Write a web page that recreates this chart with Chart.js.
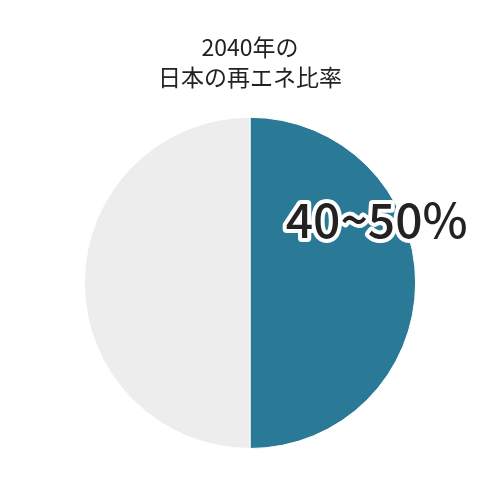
<!DOCTYPE html>
<html>
<head>
<meta charset="utf-8">
<title>2040年の日本の再エネ比率</title>
<style>
  html, body { margin: 0; padding: 0; background: #fff; }
  #wrap { width: 500px; height: 500px; }
</style>
</head>
<body>
<div id="wrap"><canvas id="myChart" width="500" height="500"></canvas></div>
<script src="https://cdn.jsdelivr.net/npm/chart.js@4"></script>
<script>
var titleLines = ['2040年の', '日本の再エネ比率'];
var labels = ['再エネ', 'その他'];
var values = [50, 50];
var colors = ['#2a7996', '#ededed'];
var sliceText = ['40~50%', ''];

var fontFamily = '"Noto Sans CJK JP", "Noto Sans", sans-serif';

// big outlined label on the renewable slice
var sliceLabel = {
  id: 'sliceLabel',
  afterDatasetsDraw: function (chart) {
    var ctx = chart.ctx;
    var meta = chart.getDatasetMeta(0);
    meta.data.forEach(function (arc, i) {
      if (!sliceText[i]) return;
      var r = arc.outerRadius;
      var x = arc.x + r * 0.765;
      var y = arc.y - r * 0.38;
      ctx.save();
      ctx.font = '500 48px ' + fontFamily;
      ctx.textAlign = 'center';
      ctx.textBaseline = 'middle';
      ctx.lineJoin = 'round';
      ctx.lineWidth = 8;
      ctx.strokeStyle = '#ffffff';
      ctx.strokeText(sliceText[i], x, y);
      ctx.fillStyle = '#222222';
      ctx.fillText(sliceText[i], x, y);
      ctx.restore();
    });
  }
};

var ctx = document.getElementById('myChart').getContext('2d');
var chart = new Chart(ctx, {
  type: 'pie',
  data: {
    labels: labels,
    datasets: [{
      data: values,
      backgroundColor: colors,
      borderColor: '#ffffff',
      borderWidth: 1
    }]
  },
  options: {
    responsive: false,
    animation: false,
    layout: { padding: { top: 0, bottom: 51 } },
    plugins: {
      legend: { display: false },
      tooltip: { enabled: false },
      title: {
        display: true,
        text: titleLines,
        color: '#222222',
        font: { family: fontFamily, size: 23, weight: 'normal', lineHeight: 1.3 },
        padding: { top: 32, bottom: 25 }
      }
    }
  },
  plugins: [sliceLabel]
});
</script>
</body>
</html>
